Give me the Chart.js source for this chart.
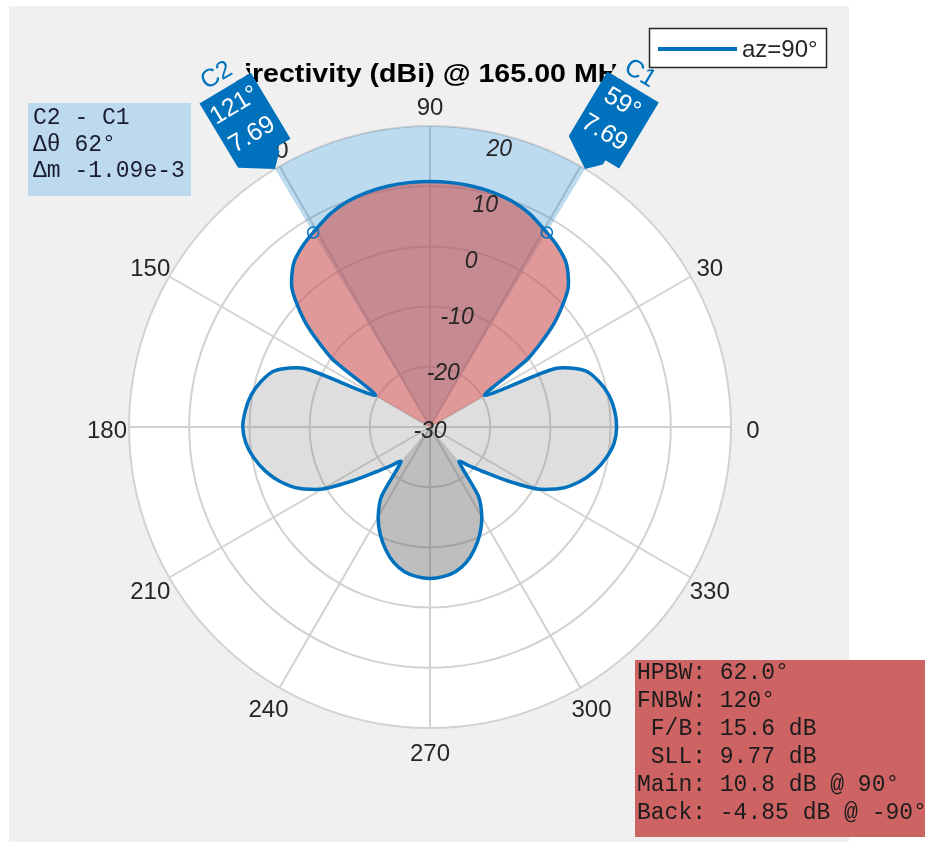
<!DOCTYPE html>
<html>
<head>
<meta charset="utf-8">
<script src="https://cdn.jsdelivr.net/npm/chart.js@4.4.0/dist/chart.umd.min.js"></script>
<style>
  html, body { margin: 0; padding: 0; background: #fff; }
  canvas { display: block; }
</style>
</head>
<body>
<canvas id="pattern" width="925" height="842"></canvas>
<script>
// azimuth cut in 5 degree steps, listed clockwise starting at the top (90 deg)
const angles = [
  90, 85, 80, 75, 70, 65, 60, 55, 50, 45, 40, 35, 30, 25, 20, 15, 10, 5, 0,
  355, 350, 345, 340, 335, 330, 325, 320, 315, 310, 305, 300, 295, 290, 285, 280, 275,
  270, 265, 260, 255, 250, 245, 240, 235, 230, 225, 220, 215, 210, 205, 200, 195, 190, 185,
  180, 175, 170, 165, 160, 155, 150, 145, 140, 135, 130, 125, 120, 115, 110, 105, 100, 95
];
// directivity in dBi at each angle above
const directivity = [
  10.8, 10.75, 10.6, 10.35, 9.9, 9.1, 7.9, 6.8, 5.3, 2.4, -3.0, -10.0, -19.5, -7.0, -2.6, -0.9, 0.2, 0.8, 1.0,
  0.7, -0.3, -1.7, -3.5, -5.9, -9.4, -14.5, -18.5, -21.0, -22.5, -16.0, -12.8, -10.4, -8.4, -6.7, -5.6, -5.05,
  -4.85, -5.05, -5.6, -6.7, -8.4, -10.4, -12.8, -16.0, -22.5, -21.0, -18.5, -14.5, -9.4, -5.9, -3.5, -1.7, -0.3, 0.7,
  1.1, 0.8, 0.2, -0.9, -2.6, -7.0, -19.5, -10.0, -3.0, 2.4, 5.3, 6.8, 7.9, 9.1, 9.9, 10.35, 10.6, 10.75
];
const radialTicks = [-30, -20, -10, 0, 10, 20];
const angleTicks = [0, 30, 60, 90, 120, 150, 180, 210, 240, 270, 300, 330];
const cursorNames = ['C1', 'C2'];
const cursorAngles = [59, 121];
const cursorValues = [7.69, 7.69];
const titleText = 'Directivity (dBi) @ 165.00 MHz';
const legendLabel = 'az=90°';
const deltaLines = ['C2 - C1', 'Δθ 62°', 'Δm -1.09e-3'];
const lobeLines = ['HPBW: 62.0°', 'FNBW: 120°', ' F/B: 15.6 dB', ' SLL: 9.77 dB', 'Main: 10.8 dB @ 90°', 'Back: -4.85 dB @ -90°'];

const BLUE = '#0072bd';
const TEXT = '#262626';
const AXES_BG = '#f0f0f0';

function rad(deg) { return deg * Math.PI / 180; }

// text drawn slightly wider than the font, the way the title comes out
function wideText(ctx, str, x, y, font, sx) {
  ctx.save();
  ctx.translate(x, y);
  ctx.scale(sx, 1);
  ctx.font = font;
  ctx.fillText(str, 0, 0);
  ctx.restore();
}

// path from the centre along the pattern between two point indices
function lobePath(ctx, pts, cx, cy, from, count) {
  const n = pts.length;
  let prev = pts[from % n];
  ctx.beginPath();
  ctx.moveTo(cx, cy);
  ctx.lineTo(prev.x, prev.y);
  for (let k = 1; k <= count; k++) {
    const cur = pts[(from + k) % n];
    ctx.bezierCurveTo(prev.cp2x, prev.cp2y, cur.cp1x, cur.cp1y, cur.x, cur.y);
    prev = cur;
  }
  ctx.closePath();
}

const backdrop = {
  id: 'backdrop',
  beforeDraw(chart) {
    const ctx = chart.ctx;
    ctx.save();
    ctx.fillStyle = AXES_BG;
    ctx.fillRect(9, 6, 840, 836);
    ctx.restore();
  }
};

const lobeFill = {
  id: 'lobeFill',
  beforeDatasetsDraw(chart) {
    const ctx = chart.ctx;
    const r = chart.scales.r;
    const pts = chart.getDatasetMeta(0).data;
    const n = pts.length;
    const cx = r.xCenter, cy = r.yCenter;

    // half power beamwidth wedge between the two cursors
    ctx.save();
    ctx.beginPath();
    ctx.moveTo(cx, cy);
    ctx.arc(cx, cy, r.drawingArea, -rad(Math.max(...cursorAngles)), -rad(Math.min(...cursorAngles)));
    ctx.closePath();
    ctx.fillStyle = 'rgba(0,114,189,0.26)';
    ctx.fill();

    // lobes are split at the nulls of the pattern
    const nulls = [];
    for (let i = 0; i < n; i++) {
      const v = directivity[i];
      if (v < directivity[(i + n - 1) % n] && v < directivity[(i + 1) % n]) nulls.push(i);
    }
    const peak = directivity.indexOf(Math.max(...directivity));
    const back = angles.indexOf(270);
    nulls.forEach((start, k) => {
      const end = nulls[(k + 1) % nulls.length];
      const count = (end - start + n) % n;
      const inside = i => (i - start + n) % n <= count;
      let color = 'rgba(128,128,128,0.26)';
      if (inside(peak)) color = 'rgba(203,84,84,0.6)';
      else if (inside(back)) color = 'rgba(100,100,100,0.42)';
      lobePath(ctx, pts, cx, cy, start, count);
      ctx.fillStyle = color;
      ctx.fill();
    });
    ctx.restore();
  }
};

// cursor flag sitting on the outer ring, pointing at the centre
function drawCursorTag(ctx, r, name, deg, value) {
  const a = rad(deg);
  const R = r.drawingArea;
  ctx.save();
  ctx.translate(r.xCenter + R * Math.cos(a), r.yCenter - R * Math.sin(a));
  ctx.rotate(Math.PI / 2 - a);

  // name label with a plain backing so it reads over the title
  ctx.fillStyle = AXES_BG;
  ctx.fillRect(-27, -127, 54, 32);
  ctx.textAlign = 'center';
  ctx.textBaseline = 'middle';
  ctx.fillStyle = BLUE;
  ctx.font = '25px "Liberation Sans"';
  ctx.fillText(name, -2, -110);

  ctx.beginPath();
  ctx.moveTo(0, 0);
  ctx.lineTo(13, -13);
  ctx.lineTo(13, -18);
  ctx.lineTo(29, -18);
  ctx.lineTo(29, -95);
  ctx.lineTo(-31, -95);
  ctx.lineTo(-31, -20);
  ctx.closePath();
  ctx.fillStyle = BLUE;
  ctx.fill();

  ctx.fillStyle = '#fff';
  ctx.font = '25px "Liberation Sans"';
  ctx.fillText(deg + '°', -2, -75);
  ctx.fillText(value.toFixed(2), -2, -41);
  ctx.restore();
}

const overlay = {
  id: 'overlay',
  afterDatasetsDraw(chart) {
    const ctx = chart.ctx;
    const r = chart.scales.r;
    const cx = r.xCenter, cy = r.yCenter;
    ctx.save();

    // cursor markers on the pattern
    ctx.strokeStyle = BLUE;
    ctx.lineWidth = 1.5;
    cursorAngles.forEach((deg, i) => {
      const d = r.getDistanceFromCenterForValue(cursorValues[i]);
      ctx.beginPath();
      ctx.arc(cx + d * Math.cos(rad(deg)), cy - d * Math.sin(rad(deg)), 5.5, 0, Math.PI * 2);
      ctx.stroke();
    });

    // magnitude labels along the 76 degree ray
    ctx.fillStyle = TEXT;
    ctx.textAlign = 'center';
    ctx.textBaseline = 'middle';
    ctx.font = 'italic 23px "Liberation Sans"';
    radialTicks.forEach(v => {
      const ring = r.getDistanceFromCenterForValue(v);
      const d = ring > 0 ? ring * 0.96 - 3 : 0;
      ctx.fillText(String(v), cx + d * Math.cos(rad(76)), cy - d * Math.sin(rad(76)) + (ring > 0 ? 0 : 5));
    });

    // angle labels
    ctx.font = '24px "Liberation Sans"';
    angleTicks.forEach(deg => {
      const d = r.drawingArea + 22;
      ctx.fillText(String(deg), cx + d * Math.cos(rad(deg)), cy - d * Math.sin(rad(deg)) + 4);
    });

    // title
    ctx.fillStyle = '#000';
    wideText(ctx, titleText, 428, 75, 'bold 26px "Liberation Sans"', 1.1);

    cursorNames.forEach((name, i) => drawCursorTag(ctx, r, name, cursorAngles[i], cursorValues[i]));

    // legend
    ctx.fillStyle = '#fff';
    ctx.fillRect(649, 28, 178, 40);
    ctx.strokeStyle = TEXT;
    ctx.lineWidth = 1.5;
    ctx.strokeRect(649.5, 28.5, 177, 39);
    ctx.strokeStyle = BLUE;
    ctx.lineWidth = 4;
    ctx.beginPath();
    ctx.moveTo(658, 49);
    ctx.lineTo(737, 49);
    ctx.stroke();
    ctx.fillStyle = TEXT;
    ctx.textAlign = 'left';
    ctx.font = '24px "Liberation Sans"';
    ctx.fillText(legendLabel, 742, 50);

    // cursor difference box
    ctx.fillStyle = '#bcd9ee';
    ctx.fillRect(28, 103, 163, 93);
    ctx.fillStyle = '#1c1c30';
    ctx.font = '23px "Liberation Mono"';
    deltaLines.forEach((s, i) => ctx.fillText(s, 33, 118 + i * 26.5));

    // lobe measurement box
    ctx.fillStyle = '#cd6363';
    ctx.fillRect(635, 660, 290, 177);
    ctx.fillStyle = '#1c1c1c';
    lobeLines.forEach((s, i) => ctx.fillText(s, 637, 673 + i * 28));

    ctx.restore();
  }
};

new Chart(document.getElementById('pattern'), {
  type: 'radar',
  data: {
    labels: angles.map(a => a + '°'),
    datasets: [{
      label: legendLabel,
      data: directivity,
      borderColor: BLUE,
      borderWidth: 3.5,
      pointRadius: 0,
      pointHoverRadius: 0,
      fill: false,
      tension: 0.25
    }]
  },
  options: {
    responsive: false,
    animation: false,
    devicePixelRatio: 1,
    layout: { padding: { left: 129, right: 194, top: 126, bottom: 114 } },
    plugins: {
      legend: { display: false },
      title: { display: false },
      tooltip: { enabled: false }
    },
    scales: {
      r: {
        min: -30,
        max: 20,
        startAngle: 0,
        backgroundColor: '#fff',
        ticks: { display: false, stepSize: 10 },
        grid: { circular: true, color: '#d2d2d2', lineWidth: 2 },
        angleLines: {
          display: true,
          lineWidth: 2,
          color: ctx => (ctx.index % 6 === 0 ? '#d2d2d2' : 'rgba(0,0,0,0)')
        },
        pointLabels: { display: false }
      }
    }
  },
  plugins: [backdrop, lobeFill, overlay]
});
</script>
</body>
</html>
